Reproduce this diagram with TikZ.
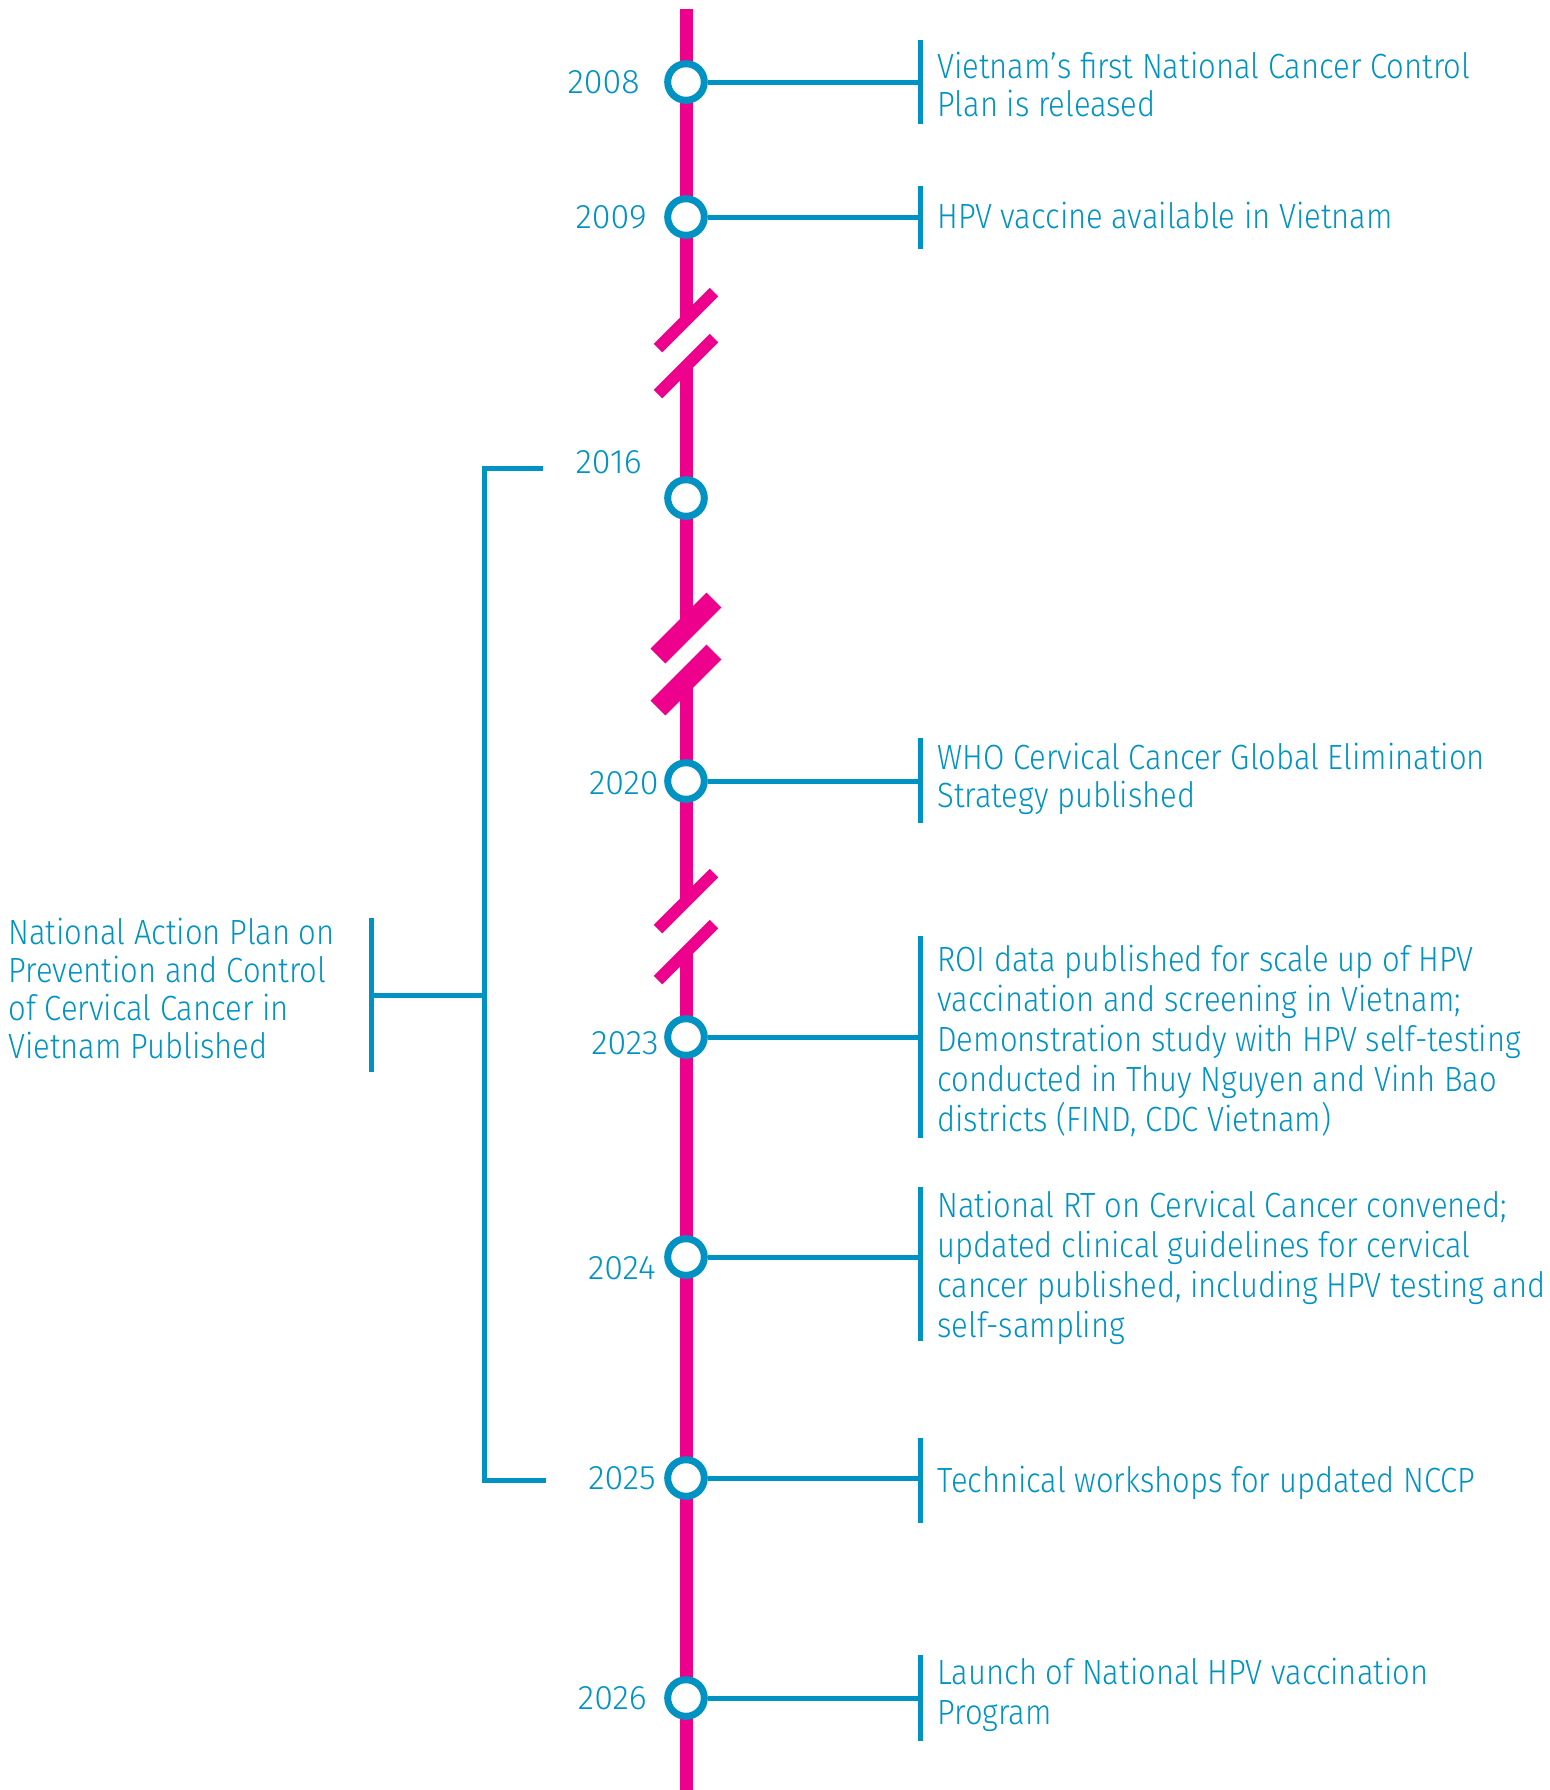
\documentclass[tikz,border=0pt]{standalone}
\usepackage{fontspec}
\setmainfont{Fira Sans}[UprightFont={* Light}]
\newfontfamily\evfont{Fira Sans}[UprightFont={* Light},FakeStretch=0.885]
\definecolor{tlpink}{RGB}{236,0,140}
\definecolor{tlblue}{RGB}{0,146,194}
\tikzset{
  spine/.style={tlpink,line width=6.5pt},
  brkthin/.style={tlpink,line width=6pt},
  brkthick/.style={tlpink,line width=10.5pt},
  link/.style={tlblue,line width=2.5pt},
  dot/.style={circle,draw=tlblue,fill=white,line width=3.5pt,minimum size=18.3pt,inner sep=0pt},
  yearlbl/.style={anchor=east,inner sep=0pt,text=tlblue,font=\fontsize{17}{20}\selectfont},
  event/.style={anchor=west,align=left,inner sep=0pt,text=tlblue,font=\evfont\fontsize{17.5}{20}\selectfont},
  tightevent/.style={event,font=\evfont\fontsize{17.5}{19}\selectfont},
}

\begin{document}
\begin{tikzpicture}[x=0.5pt,y=-0.5pt]
         \useasboundingbox (0,0) rectangle (1550,1790);
         %\draw[very thin,gray,step=50] (0,0) grid (1550,1790) ;
         % spine with breaks
         \coordinate (top) at (686,9) ;
         \coordinate (bottom) at (686,1790) ;
         \coordinate (brk1a) at (686,320) ; \coordinate (brk1b) at (686,366) ;
         \coordinate (brk2a) at (686,628) ; \coordinate (brk2b) at (686,680) ;
         \coordinate (brk3a) at (686,901) ; \coordinate (brk3b) at (686,952) ;
         \draw[spine] (top) -- (brk1a) ;
         \draw[spine] (brk1b) -- (brk2a) ;
         \draw[spine] (brk2b) -- (brk3a) ;
         \draw[spine] (brk3b) -- (bottom) ;
         \draw[brkthin] (brk1a) ++(-28,28) -- ++(56,-56) ;
         \draw[brkthin] (brk1b) ++(-28,28) -- ++(56,-56) ;
         \draw[brkthick] (brk2a) ++(-28,28) -- ++(56,-56) ;
         \draw[brkthick] (brk2b) ++(-28,28) -- ++(56,-56) ;
         \draw[brkthin] (brk3a) ++(-28,28) -- ++(56,-56) ;
         \draw[brkthin] (brk3b) ++(-28,28) -- ++(56,-56) ;

         % branch ends
         \coordinate (b2008) at (920,82) ;
         \coordinate (b2009) at (920,217) ;
         \coordinate (b2020) at (920,781) ;
         \coordinate (b2023) at (920,1037) ;
         \coordinate (b2024) at (920,1257) ;
         \coordinate (b2025) at (920,1478) ;
         \coordinate (b2026) at (920,1698) ;

         % year dots
         \node[dot] (c2008) at (686,82) {} ;
         \node[dot] (c2009) at (686,217) {} ;
         \node[dot] (c2016) at (686,498) {} ;
         \node[dot] (c2020) at (686,781) {} ;
         \node[dot] (c2023) at (686,1037) {} ;
         \node[dot] (c2024) at (686,1257) {} ;
         \node[dot] (c2025) at (686,1478) {} ;
         \node[dot] (c2026) at (686,1698) {} ;

         \node[yearlbl] (y2008) at (640,82) {2008} ;
         \node[yearlbl] (y2009) at (647,217) {2009} ;
         \node[yearlbl] (y2016) at (642,462) {2016} ;
         \node[yearlbl] (y2020) at (659,783) {2020} ;
         \node[yearlbl] (y2023) at (659,1043) {2023} ;
         \node[yearlbl] (y2024) at (656,1268) {2024} ;
         \node[yearlbl] (y2025) at (656,1478) {2025} ;
         \node[yearlbl] (y2026) at (647,1698) {2026} ;

         % connectors and bars
         \draw[link] (c2008) -- (b2008) ; \draw[link] (b2008) ++(0,-42) -- ++(0,84) ;
         \draw[link] (c2009) -- (b2009) ; \draw[link] (b2009) ++(0,-31) -- ++(0,63) ;
         \draw[link] (c2020) -- (b2020) ; \draw[link] (b2020) ++(0,-43) -- ++(0,85) ;
         \draw[link] (c2023) -- (b2023) ; \draw[link] (b2023) ++(0,-101) -- ++(0,202) ;
         \draw[link] (c2024) -- (b2024) ; \draw[link] (b2024) ++(0,-70) -- ++(0,154) ;
         \draw[link] (c2025) -- (b2025) ; \draw[link] (b2025) ++(0,-40) -- ++(0,85) ;
         \draw[link] (c2026) -- (b2026) ; \draw[link] (b2026) ++(0,-43) -- ++(0,86) ;

         \node[tightevent] (e2008) at (937,85) {Vietnam’s first National Cancer Control\\Plan is released} ;
         \node[event] (e2009) at (937,216) {HPV vaccine available in Vietnam} ;
         \node[tightevent] (e2020) at (937,779) {WHO Cervical Cancer Global Elimination\\Strategy published} ;
         \node[event] (e2023) at (937,1041) {ROI data published for scale up of HPV\\vaccination and screening in Vietnam;\\Demonstration study with HPV self-testing\\conducted in Thuy Nguyen and Vinh Bao\\districts (FIND, CDC Vietnam)} ;
         \node[event] (e2024) at (937,1268) {National RT on Cervical Cancer convened;\\updated clinical guidelines for cervical\\cancer published, including HPV testing and\\self-sampling} ;
         \node[event] (e2025) at (937,1483) {Technical workshops for updated NCCP} ;
         \node[event] (e2026) at (937,1695) {Launch of National HPV vaccination\\Program} ;

         % action plan bracket
         \coordinate (bktop) at (543,468) ;
         \coordinate (bkbot) at (546,1480) ;
         \coordinate (bkmid) at (484,995) ;
         \coordinate (napbar) at (371,995) ;
         \draw[link] (bktop) -- ++(-59,0) |- (bkbot) ;
         \draw[link] (bkmid) -- (napbar) ;
         \draw[link] (napbar) ++(0,-77) -- ++(0,154) ;
         \node[tightevent] (nap) at (8,988) {National Action Plan on\\Prevention and Control\\of Cervical Cancer in\\Vietnam Published} ;
      \end{tikzpicture}
\end{document}
